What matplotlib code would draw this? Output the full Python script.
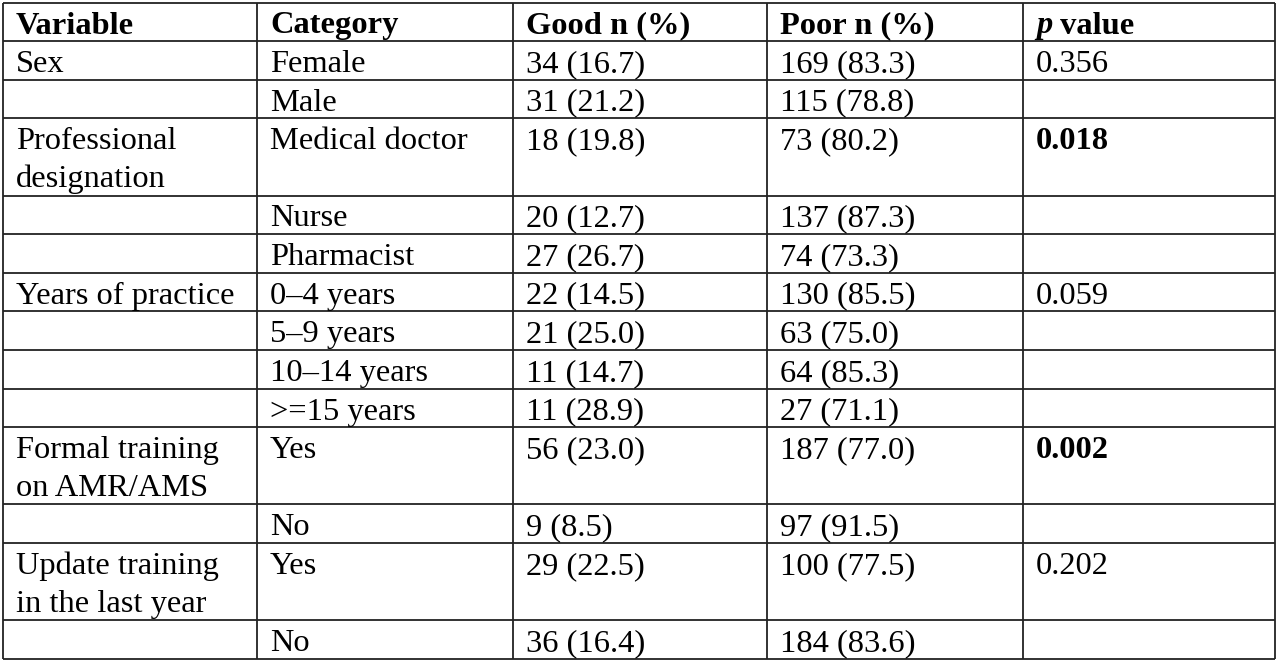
import matplotlib.pyplot as plt

# table content
headers = ["Variable", "Category", "Good n (%)", "Poor n (%)", "p value"]
variables = ["Sex", "", "Professional\ndesignation", "", "", "Years of practice", "", "", "",
             "Formal training\non AMR/AMS", "", "Update training\nin the last year", ""]
categories = ["Female", "Male", "Medical doctor", "Nurse", "Pharmacist", "0–4 years", "5–9 years",
              "10–14 years", ">=15 years", "Yes", "No", "Yes", "No"]
good_n = [34, 31, 18, 20, 27, 22, 21, 11, 11, 56, 9, 29, 36]
good_pct = [16.7, 21.2, 19.8, 12.7, 26.7, 14.5, 25.0, 14.7, 28.9, 23.0, 8.5, 22.5, 16.4]
poor_n = [169, 115, 73, 137, 74, 130, 63, 64, 27, 187, 97, 100, 184]
poor_pct = [83.3, 78.8, 80.2, 87.3, 73.3, 85.5, 75.0, 85.3, 71.1, 77.0, 91.5, 77.5, 83.6]
p_values = ["0.356", "", "0.018", "", "", "0.059", "", "", "", "0.002", "", "0.202", ""]
significant = ["0.018", "0.002"]

# layout in pixels
col_x = [3, 257, 513, 767, 1023, 1275]
top = 2.5
line_h = 38.6
pad_x = 13
base_off = 31
font = "Liberation Serif"
fsize = 23.4

fig = plt.figure(figsize=(12.8, 6.64), dpi=100)
ax = fig.add_axes([0, 0, 1, 1])
ax.set_xlim(0, 1280)
ax.set_ylim(664, 0)
ax.axis("off")

rows = [headers]
for i in range(len(categories)):
    rows.append([variables[i], categories[i],
                 f"{good_n[i]} ({good_pct[i]:.1f})",
                 f"{poor_n[i]} ({poor_pct[i]:.1f})",
                 p_values[i]])

# row boundaries from the number of text lines per row
bounds = [top]
for r in rows:
    n = max(len(c.split("\n")) for c in r)
    bounds.append(bounds[-1] + n * line_h)

renderer = fig.canvas.get_renderer()

for ri, r in enumerate(rows):
    y0 = bounds[ri]
    for ci, cell in enumerate(r):
        x = col_x[ci] + pad_x
        bold = ri == 0 or cell in significant
        for li, ln in enumerate(cell.split("\n")):
            y = y0 + base_off + li * line_h * 0.98
            if ri == 0 and ci == 4:
                t = ax.text(x, y, "p", fontfamily=font, fontsize=fsize, fontweight="bold",
                            fontstyle="italic", va="baseline", ha="left")
                bb = t.get_window_extent(renderer)
                ax.text(x + bb.width, y, " value", fontfamily=font, fontsize=fsize,
                        fontweight="bold", va="baseline", ha="left")
                continue
            ax.text(x, y, ln, fontfamily=font, fontsize=fsize,
                    fontweight="bold" if bold else "normal", va="baseline", ha="left")

# grid lines
lc = "#222222"
lw = 1.3
ax.hlines(bounds, col_x[0], col_x[-1], colors=lc, linewidth=lw)
ax.vlines(col_x, bounds[0], bounds[-1], colors=lc, linewidth=lw)

plt.savefig("out.png", dpi=100)
